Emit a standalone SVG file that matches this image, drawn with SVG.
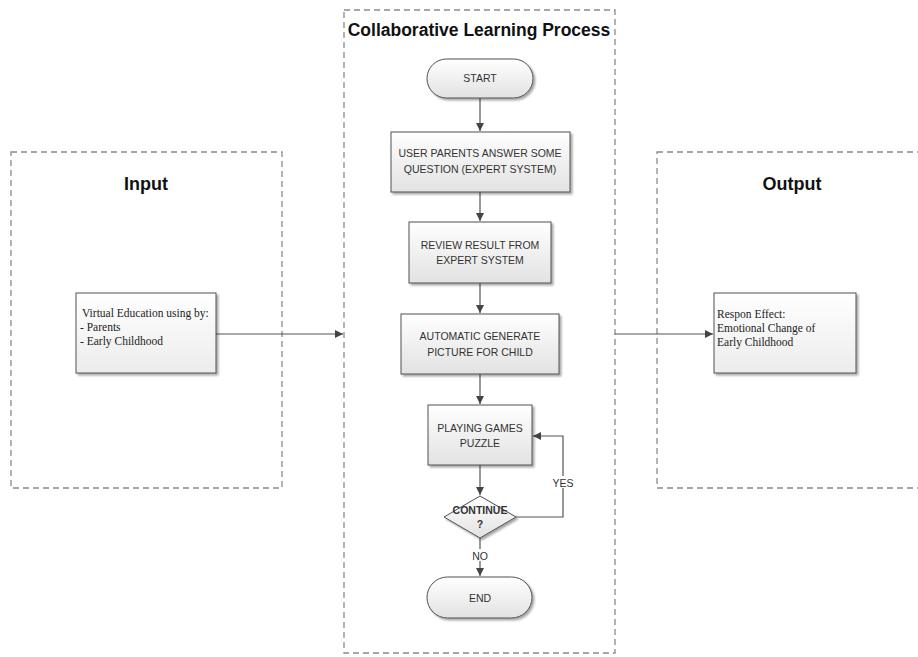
<svg xmlns="http://www.w3.org/2000/svg" width="918" height="657" viewBox="0 0 918 657">
<style>
.frame{fill:none;stroke:#8a8a8a;stroke-width:1.3;stroke-dasharray:6,4}
.box{fill:url(#g);stroke:#505050;stroke-width:1}
.nbox{fill:url(#g2);stroke:#505050;stroke-width:1}
.lbl{font-family:"Liberation Sans",Arial,sans-serif;font-size:10.5px;fill:#333;text-anchor:middle}
.ttl{font-family:"Liberation Sans",Arial,sans-serif;font-weight:bold;fill:#111;text-anchor:middle}
.ser{font-family:"Liberation Serif","Times New Roman",serif;font-size:11.5px;fill:#222}
.conn{fill:none;stroke:#555;stroke-width:1.2}
</style>
<defs>
<linearGradient id="g" x1="0" y1="0" x2="0" y2="1">
<stop offset="0" stop-color="#ffffff"/>
<stop offset="1" stop-color="#e2e2e2"/>
</linearGradient>
<linearGradient id="g2" x1="0" y1="0" x2="0" y2="1">
<stop offset="0" stop-color="#ffffff"/>
<stop offset="1" stop-color="#ececec"/>
</linearGradient>
<filter id="sh" x="-10%" y="-10%" width="130%" height="130%">
<feGaussianBlur in="SourceAlpha" stdDeviation="1.2"/>
<feOffset dx="1.5" dy="1.5" result="o"/>
<feComponentTransfer><feFuncA type="linear" slope="0.35"/></feComponentTransfer>
<feMerge><feMergeNode/><feMergeNode in="SourceGraphic"/></feMerge>
</filter>
<marker id="ah" viewBox="0 0 10 10" refX="10" refY="5" markerWidth="8" markerHeight="8" markerUnits="userSpaceOnUse" orient="auto">
<path d="M0,0 L10,5 L0,10 z" fill="#444"/>
</marker>
</defs>
<rect width="918" height="657" fill="#ffffff"/>

<g id="input-frame">
<rect class="frame" x="11" y="152" width="271" height="336"/>
<text class="ttl" x="146" y="190" font-size="18">Input</text>
</g>
<g id="process-frame">
<rect class="frame" x="344" y="10" width="271" height="643"/>
<text class="ttl" x="479" y="36" font-size="17.5">Collaborative Learning Process</text>
</g>
<g id="output-frame">
<rect class="frame" x="657" y="152" width="275" height="336"/>
<text class="ttl" x="792" y="190" font-size="18">Output</text>
</g>

<g id="connectors">
<line class="conn" x1="216" y1="334" x2="343" y2="334" marker-end="url(#ah)"/>
<line class="conn" x1="615" y1="334" x2="713" y2="334" marker-end="url(#ah)"/>
<line class="conn" x1="480" y1="98" x2="480" y2="131" marker-end="url(#ah)"/>
<line class="conn" x1="480" y1="192" x2="480" y2="221" marker-end="url(#ah)"/>
<line class="conn" x1="480" y1="283" x2="480" y2="313" marker-end="url(#ah)"/>
<line class="conn" x1="480" y1="374" x2="480" y2="404" marker-end="url(#ah)"/>
<line class="conn" x1="480" y1="465" x2="480" y2="495" marker-end="url(#ah)"/>
<polyline class="conn" points="516,517 563,517 563,436 533,436" marker-end="url(#ah)"/>
<line class="conn" x1="480" y1="538" x2="480" y2="576" marker-end="url(#ah)"/>
<rect x="551" y="476" width="24" height="12" fill="#fff"/>
<text class="lbl" x="563" y="487">YES</text>
<rect x="469" y="549" width="22" height="12" fill="#fff"/>
<text class="lbl" x="480" y="560">NO</text>
</g>

<g id="input-node">
<rect class="nbox" x="76" y="293" width="140" height="80" filter="url(#sh)"/>
<text class="ser" x="82" y="317">Virtual Education using by:</text>
<text class="ser" x="80" y="331">- Parents</text>
<text class="ser" x="80" y="345">- Early Childhood</text>
</g>

<g id="output-node">
<rect class="nbox" x="714" y="293" width="142" height="80" filter="url(#sh)"/>
<text class="ser" x="717" y="318">Respon Effect:</text>
<text class="ser" x="717" y="332">Emotional Change of</text>
<text class="ser" x="717" y="346">Early Childhood</text>
</g>

<g id="start">
<rect class="box" x="427" y="59" width="106" height="39" rx="19.5" filter="url(#sh)"/>
<text class="lbl" x="480" y="82">START</text>
</g>

<g id="step1">
<rect class="box" x="391" y="132" width="179" height="60" filter="url(#sh)"/>
<text class="lbl" x="480" y="157">USER PARENTS ANSWER SOME</text>
<text class="lbl" x="480" y="173">QUESTION (EXPERT SYSTEM)</text>
</g>

<g id="step2">
<rect class="box" x="409" y="222" width="142" height="61" filter="url(#sh)"/>
<text class="lbl" x="480" y="249">REVIEW RESULT FROM</text>
<text class="lbl" x="480" y="264">EXPERT SYSTEM</text>
</g>

<g id="step3">
<rect class="box" x="401" y="314" width="158" height="60" filter="url(#sh)"/>
<text class="lbl" x="480" y="340">AUTOMATIC GENERATE</text>
<text class="lbl" x="480" y="356">PICTURE FOR CHILD</text>
</g>

<g id="step4">
<rect class="box" x="428" y="405" width="104" height="60" filter="url(#sh)"/>
<text class="lbl" x="480" y="432">PLAYING GAMES</text>
<text class="lbl" x="480" y="447">PUZZLE</text>
</g>

<g id="decision">
<polygon class="box" points="480,496 516,517 480,538 444,517" filter="url(#sh)"/>
<text class="lbl" x="480" y="514" font-weight="bold" font-size="9.5">CONTINUE</text>
<text class="lbl" x="480" y="528" font-weight="bold" font-size="9.5">?</text>
</g>

<g id="end">
<rect class="box" x="427" y="577" width="105" height="41" rx="20.5" filter="url(#sh)"/>
<text class="lbl" x="480" y="602">END</text>
</g>
</svg>
